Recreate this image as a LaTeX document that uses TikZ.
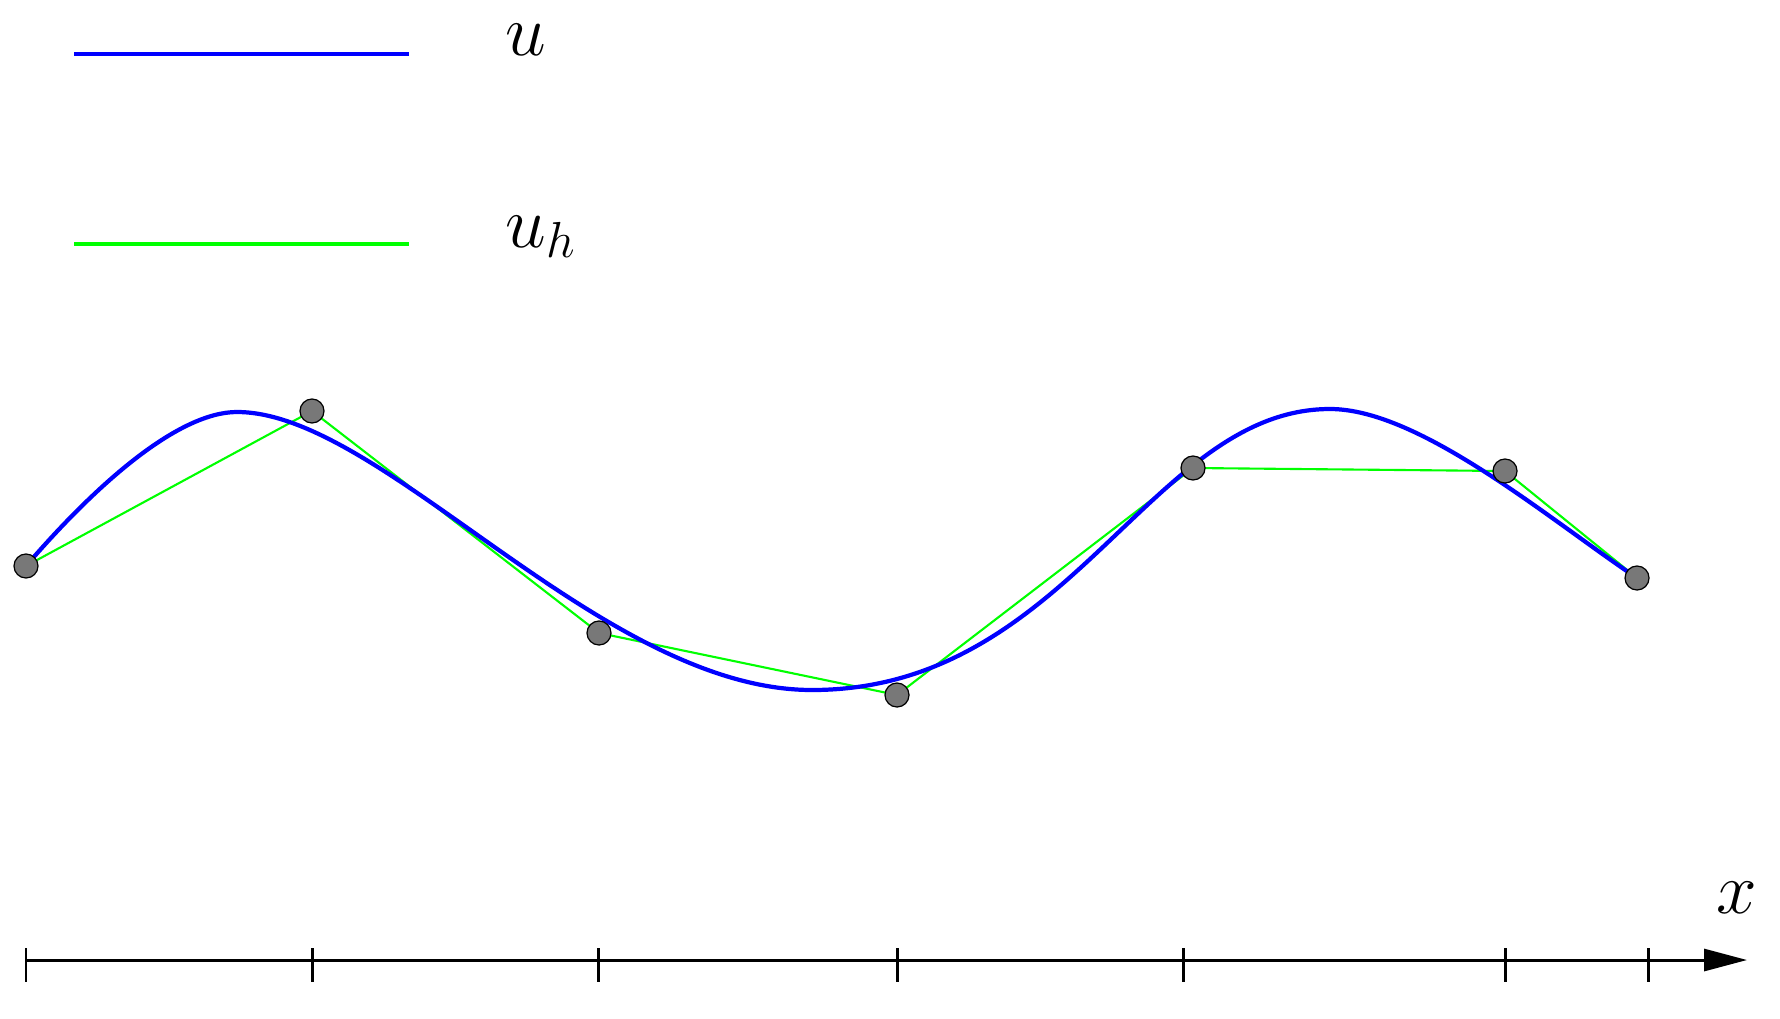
\documentclass[tikz,border=0pt]{standalone}
\usetikzlibrary{arrows.meta}
\definecolor{uhgreen}{RGB}{0,255,0}
\definecolor{dotgray}{RGB}{120,120,120}

\begin{document}
\begin{tikzpicture}[x=0.01cm, y=-0.01cm,
    exact/.style={blue, line width=1.2pt},
    approx/.style={uhgreen, line width=0.6pt},
    axisline/.style={line width=0.85pt},
    dot/.style={circle, draw=black, fill=dotgray, line width=0.35pt, minimum size=0.24cm, inner sep=0pt},
    lab/.style={inner sep=0pt, font=\fontsize{20}{24}\selectfont}]
    \useasboundingbox (0,0) rectangle (1780,1018);

    % the legend for u
    \coordinate (ua) at (74,54);
    \coordinate (ub) at (409,54);
    \draw[exact] (ua) -- (ub);
    \node[lab, anchor=base west] (ulab) at (505,55) {$u$};
    % the legend for u_h
    \coordinate (uha) at (74,244);
    \coordinate (uhb) at (409,244);
    \draw[approx, line width=1.2pt] (uha) -- (uhb);
    \node[lab, anchor=base west] (uhlab) at (505,247) {$u_h$};

    % the nodal points
    \coordinate (n1) at (26,566);
    \coordinate (n2) at (312,411);
    \coordinate (n3) at (599,633);
    \coordinate (n4) at (897,695);
    \coordinate (n5) at (1193,468);
    \coordinate (n6) at (1505,471);
    \coordinate (n7) at (1637,578);

    % the piecewise linear u_h
    \draw[approx] (n1) -- (n2) -- (n3) -- (n4) -- (n5) -- (n6) -- (n7);

    % the exact solution u
    \draw[exact] (n1) .. controls (100,480) and (180,412) .. (237,412)
        .. controls (383,412) and (601,690) .. (812,690)
        .. controls (1070,690) and (1150,409) .. (1330,409)
        .. controls (1420,409) and (1550,520) .. (n7);

    % the dots on top
    \foreach \i in {1,...,7}
        \node[dot] (d\i) at (n\i) {};

    % the x axis
    \coordinate (xstart) at (26,960);
    \coordinate (xend) at (1747,960);
    \draw[axisline, -{Triangle[length=0.43cm, width=0.22cm]}] (xstart) -- (xend);
    \node[lab, anchor=base] (xlab) at (1737,913) {$x$};
    % the ticks on the axis
    \foreach \t in {26, 312, 598, 897, 1183, 1505, 1648}
        \draw[axisline] (\t,948) -- (\t,982);
\end{tikzpicture}
\end{document}
